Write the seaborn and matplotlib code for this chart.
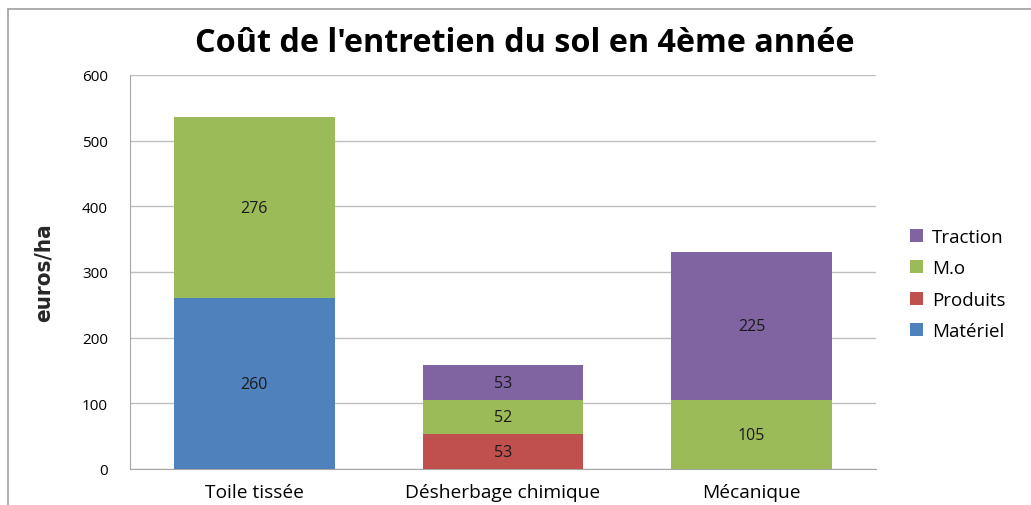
import numpy as np
import pandas as pd
import matplotlib
matplotlib.use("Agg")
import matplotlib.pyplot as plt
import seaborn as sns
from matplotlib import font_manager
from matplotlib.patches import Patch
from matplotlib.lines import Line2D

# data
categories = ["Toile tissée", "Désherbage chimique", "Mécanique"]
series_names = ["Matériel", "Produits", "M.o", "Traction"]  # bottom -> top
materiel = [260, 0, 0]
produits = [0, 53, 0]
mo = [276, 52, 105]
traction = [0, 53, 225]
colors = {"Matériel": "#4F81BD", "Produits": "#C0504D", "M.o": "#9BBB59", "Traction": "#8064A2"}

sns.set_style("white")
plt.rcParams["font.family"] = ["Open Sans", "DejaVu Sans"]
plt.rcParams["text.color"] = "black"
plt.rcParams["xtick.color"] = "black"
plt.rcParams["ytick.color"] = "black"

# condensed bold face for the y label if one is around
condensed = [f for f in font_manager.fontManager.ttflist
             if f.stretch in ("condensed", "semi-condensed") and f.weight in (600, 700, "bold")]
if condensed:
    ylab_font = dict(fname=condensed[0].fname)
    ylab_size = 16
else:
    ylab_font = dict(family=["Open Sans", "DejaVu Sans"], weight="bold")
    ylab_size = 13

values = {"Matériel": materiel, "Produits": produits, "M.o": mo, "Traction": traction}
df = pd.DataFrame(values, index=categories)
cum = df.cumsum(axis=1)

fig = plt.figure(figsize=(10.31, 5.06), dpi=100)
ax = fig.add_axes([130 / 1031, 1 - 470 / 506, 746 / 1031, 394 / 506])

# stacked bars: draw cumulative totals from top layer down
for name in reversed(series_names):
    d = pd.DataFrame({"cat": categories, "val": cum[name].values})
    sns.barplot(data=d, x="cat", y="val", color=colors[name], width=0.645,
                saturation=1, ax=ax, zorder=3, order=categories, linewidth=0)

# labels in the middle of each segment
for i, cat in enumerate(categories):
    base = 0
    for name in series_names:
        v = df.loc[cat, name]
        if v > 0:
            ax.text(i, base + v / 2, str(v), ha="center", va="center",
                    fontsize=11.5, color="#1A1A1A", zorder=4)
        base += v

ax.set_ylim(0, 600)
ax.set_yticks(range(0, 601, 100))
ax.set_xlim(-0.5, 2.5)
ax.yaxis.grid(True, color="#BFBFBF", linewidth=1, zorder=0)
ax.set_axisbelow(True)
for s in ["top", "right"]:
    ax.spines[s].set_visible(False)
ax.spines["left"].set_color("#A6A6A6")
ax.spines["bottom"].set_color("#A6A6A6")
ax.tick_params(axis="y", labelsize=11, length=0, pad=16)
ax.tick_params(axis="x", labelsize=13.8, length=0, pad=10)
ax.set_xlabel("")
ax.set_ylabel("euros/ha", fontproperties=font_manager.FontProperties(**ylab_font),
              fontsize=ylab_size, labelpad=20)

fig.text(525 / 1031, 1 - 43 / 506, "Coût de l'entretien du sol en 4ème année",
         ha="center", va="center", fontsize=23.3, fontweight="bold")

handles = [Patch(facecolor=colors[n], edgecolor="none") for n in reversed(series_names)]
fig.legend(handles, list(reversed(series_names)), loc="center left",
           bbox_to_anchor=(893 / 1031, 1 - 285 / 506), frameon=False,
           fontsize=13.5, handlelength=0.7, handleheight=0.7, handletextpad=0.5,
           labelspacing=0.72)

# outer chart frame (partly visible)
fig.add_artist(Line2D([8 / 1031, 8 / 1031], [0, 1 - 10 / 506], color="#A0A0A0", lw=1.2))
fig.add_artist(Line2D([8 / 1031, 1], [1 - 10 / 506, 1 - 10 / 506], color="#A0A0A0", lw=1.2))

fig.savefig("out.png", dpi=100)
